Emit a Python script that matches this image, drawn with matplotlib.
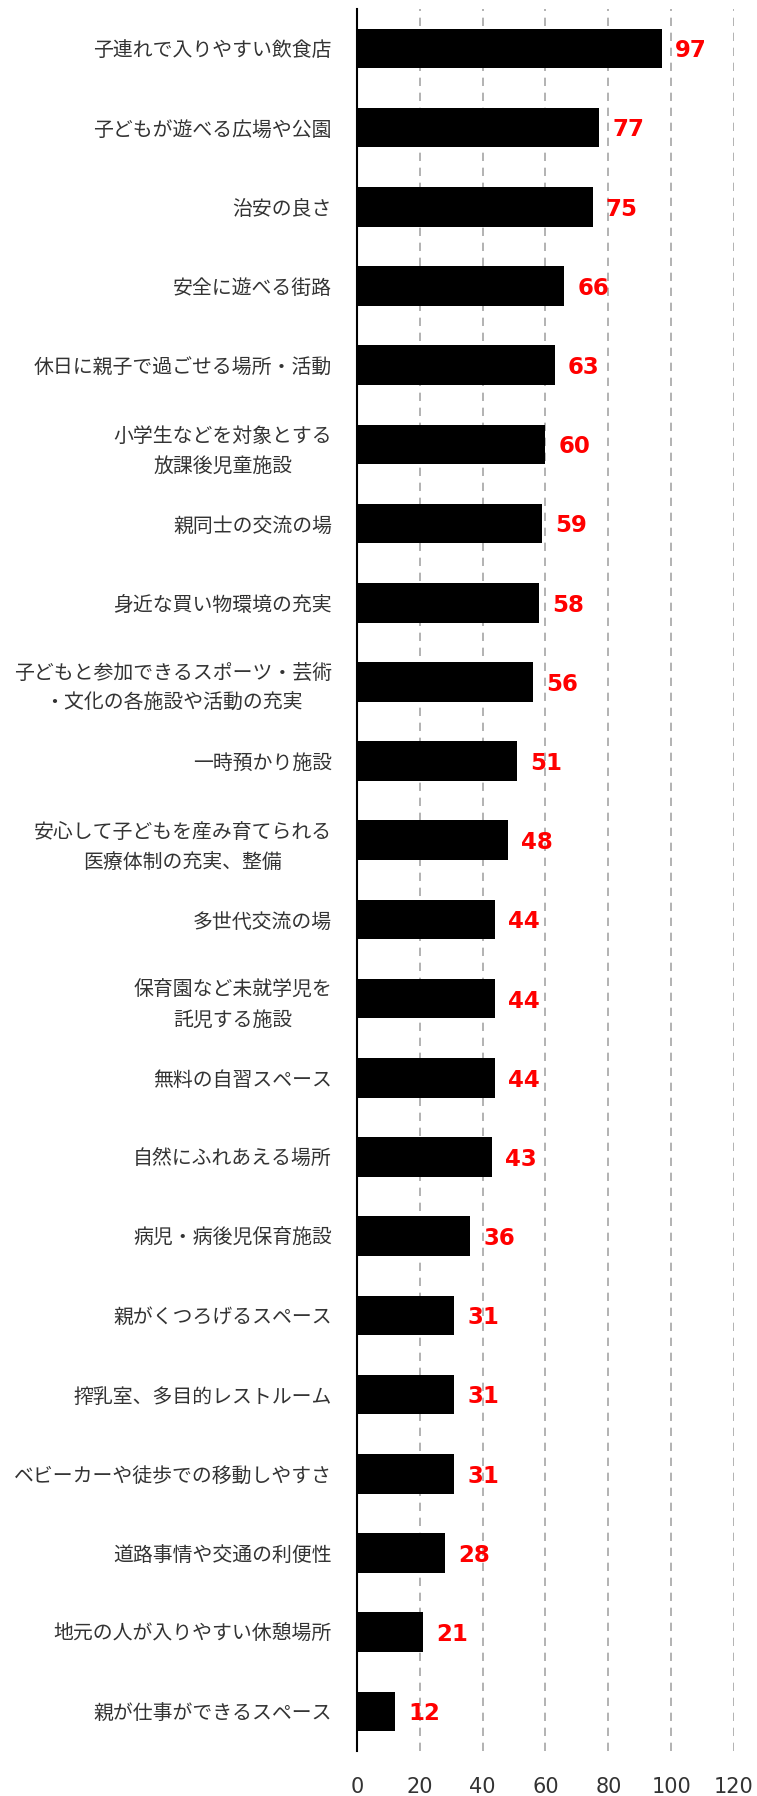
import matplotlib.pyplot as plt

plt.rcParams['font.family'] = ['Noto Sans CJK JP', 'DejaVu Sans']

# Items (top to bottom) and counts
categories = [
    "子連れで入りやすい飲食店",
    "子どもが遊べる広場や公園",
    "治安の良さ",
    "安全に遊べる街路",
    "休日に親子で過ごせる場所・活動",
    "小学生などを対象とする\n放課後児童施設",
    "親同士の交流の場",
    "身近な買い物環境の充実",
    "子どもと参加できるスポーツ・芸術\n・文化の各施設や活動の充実",
    "一時預かり施設",
    "安心して子どもを産み育てられる\n医療体制の充実、整備",
    "多世代交流の場",
    "保育園など未就学児を\n託児する施設",
    "無料の自習スペース",
    "自然にふれあえる場所",
    "病児・病後児保育施設",
    "親がくつろげるスペース",
    "搾乳室、多目的レストルーム",
    "ベビーカーや徒歩での移動しやすさ",
    "道路事情や交通の利便性",
    "地元の人が入りやすい休憩場所",
    "親が仕事ができるスペース",
]
values = [97, 77, 75, 66, 63, 60, 59, 58, 56, 51, 48, 44, 44, 44, 43, 36, 31, 31, 31, 28, 21, 12]
xticks = [0, 20, 40, 60, 80, 100, 120]

fig = plt.figure(figsize=(7.57, 17.96), dpi=100)
ax = fig.add_axes([0.4716, 0.0251, 0.498, 0.970])

pos = list(range(len(categories)))
ax.barh(pos, values, height=0.5, color='black', zorder=3)
ax.set_ylim(len(categories) - 0.5, -0.5)
ax.set_xlim(0, 120)

for y, v in zip(pos, values):
    ax.text(v + 4.2, y + 0.03, str(v), color='#ff0000', fontsize=16.5, fontweight='bold',
            va='center', ha='left', family=['DejaVu Sans'])

ax.set_yticks(pos)
ax.set_yticklabels(categories, fontsize=14.3, color='#333333',
                   multialignment='center', linespacing=1.55)
ax.set_xticks(xticks)
ax.set_xticklabels([str(t) for t in xticks], fontsize=15, color='#333333',
                   family=['DejaVu Sans'])
ax.tick_params(axis='both', length=0)
ax.tick_params(axis='x', pad=19)
ax.tick_params(axis='y', pad=18)

for t in xticks[1:]:
    ax.axvline(t, color='#a6a6a6', linestyle=(0, (5, 4)), linewidth=1.2, zorder=1)

for s in ['top', 'right', 'bottom']:
    ax.spines[s].set_visible(False)
ax.spines['left'].set_color('black')
ax.spines['left'].set_linewidth(1.5)
ax.spines['left'].set_zorder(4)

plt.savefig("out.png", dpi=100)
